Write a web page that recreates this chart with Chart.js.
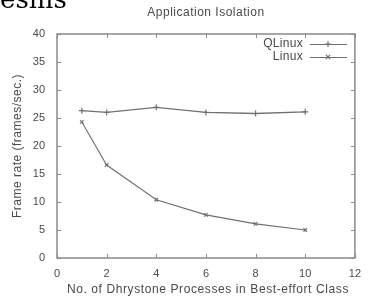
<!DOCTYPE html>
<html><head><meta charset="utf-8">
<script src="https://cdn.jsdelivr.net/npm/chart.js@4"></script>
<style>html,body{margin:0;padding:0;background:#fff;}#wrap{width:370px;height:301px;position:relative;}</style>
</head><body><div id="wrap"><canvas id="c" width="370" height="301"></canvas></div>
<script>
const xValues = [1, 2, 4, 6, 8, 10];
const qlinux = [26.3, 26.0, 26.9, 26.0, 25.8, 26.1];
const linux = [24.3, 16.6, 10.4, 7.7, 6.1, 5.0];
const seriesNames = ["QLinux", "Linux"];
const xTicks = [0, 2, 4, 6, 8, 10, 12];
const yTicks = [0, 5, 10, 15, 20, 25, 30, 35, 40];
const titleText = "Application Isolation";
const xTitle = "No. of Dhrystone Processes in Best-effort Class";
const yTitle = "Frame rate (frames/sec.)";

const textCol = "#4a4a4a";
const lineCol = "#707070";
const FONT = "Liberation Sans, Arial, sans-serif";

const deco = {
  id: 'deco',
  afterDraw(chart) {
    const ctx = chart.ctx, ca = chart.chartArea;
    const xs = chart.scales.x, ys = chart.scales.y;
    ctx.save();
    // stray clipped text at top-left
    ctx.fillStyle = "#000";
    ctx.font = "26px 'DejaVu Serif', serif";
    ctx.textAlign = "left"; ctx.textBaseline = "alphabetic";
    ctx.fillText("esms", 0, 8);
    // frame
    ctx.strokeStyle = "#8a8a8a"; ctx.lineWidth = 1.5;
    ctx.strokeRect(ca.left, ca.top, ca.right - ca.left, ca.bottom - ca.top);
    // inward ticks
    ctx.lineWidth = 1;
    ctx.beginPath();
    xTicks.forEach(v => {
      const p = Math.round(xs.getPixelForValue(v)) + 0.5;
      ctx.moveTo(p, ca.bottom); ctx.lineTo(p, ca.bottom - 4);
      ctx.moveTo(p, ca.top); ctx.lineTo(p, ca.top + 4);
    });
    yTicks.forEach(v => {
      const p = Math.round(ys.getPixelForValue(v)) + 0.5;
      ctx.moveTo(ca.left, p); ctx.lineTo(ca.left + 4, p);
      ctx.moveTo(ca.right, p); ctx.lineTo(ca.right - 4, p);
    });
    ctx.stroke();
    // titles
    ctx.fillStyle = textCol;
    ctx.font = "12px " + FONT;
    ctx.letterSpacing = "0.5px";
    ctx.textAlign = "center"; ctx.textBaseline = "middle";
    ctx.fillText(titleText, (ca.left + ca.right) / 2, 13);
    ctx.letterSpacing = "0.6px";
    ctx.fillText(xTitle, (ca.left + ca.right) / 2 + 2, 290);
    ctx.save();
    ctx.letterSpacing = "0.5px";
    ctx.translate(18, 146);
    ctx.rotate(-Math.PI / 2);
    ctx.fillText(yTitle, 0, 0);
    ctx.restore();
    // legend
    const ly = [44, 57];
    chart.data.datasets.forEach((ds, i) => {
      ctx.fillStyle = textCol;
      ctx.font = "12px " + FONT;
      ctx.letterSpacing = "0.3px";
      ctx.textAlign = "right";
      ctx.fillText(ds.label, 303, ly[i]);
      ctx.strokeStyle = ds.borderColor; ctx.lineWidth = 1.2;
      ctx.beginPath(); ctx.moveTo(310, ly[i] + 0.5); ctx.lineTo(347, ly[i] + 0.5); ctx.stroke();
      Chart.helpers.drawPoint(ctx, {pointStyle: ds.pointStyle, radius: 3, borderWidth: 1}, 328, ly[i]);
    });
    ctx.restore();
  }
};

new Chart(document.getElementById('c'), {
  type: 'line',
  data: {
    datasets: [
      { label: seriesNames[0], data: xValues.map((x, i) => ({x, y: qlinux[i]})),
        borderColor: lineCol, backgroundColor: lineCol, borderWidth: 1.3,
        pointStyle: 'cross', pointRadius: 3, pointBorderWidth: 1.2, tension: 0 },
      { label: seriesNames[1], data: xValues.map((x, i) => ({x, y: linux[i]})),
        borderColor: lineCol, backgroundColor: lineCol, borderWidth: 1.1,
        pointStyle: 'crossRot', pointRadius: 2.5, pointBorderWidth: 1.2, tension: 0 }
    ]
  },
  options: {
    responsive: false, animation: false,
    layout: { padding: { top: 34, right: 7, left: 0, bottom: 0 } },
    plugins: { legend: { display: false }, title: { display: false }, tooltip: { enabled: false } },
    scales: {
      x: {
        type: 'linear', min: 0, max: 12,
        afterBuildTicks: s => { s.ticks = xTicks.map(v => ({value: v})); },
        grid: { display: false, drawTicks: false },
        border: { display: false },
        ticks: { color: textCol, font: { size: 11, family: FONT }, padding: 9, maxRotation: 0 },
        afterFit: s => { s.height = 43; }
      },
      y: {
        min: 0, max: 40,
        afterBuildTicks: s => { s.ticks = yTicks.map(v => ({value: v})); },
        grid: { display: false, drawTicks: false },
        border: { display: false },
        ticks: { color: textCol, font: { size: 11, family: FONT }, padding: 12 },
        afterFit: s => { s.width = 57; }
      }
    }
  },
  plugins: [deco]
});
</script>
</body></html>
